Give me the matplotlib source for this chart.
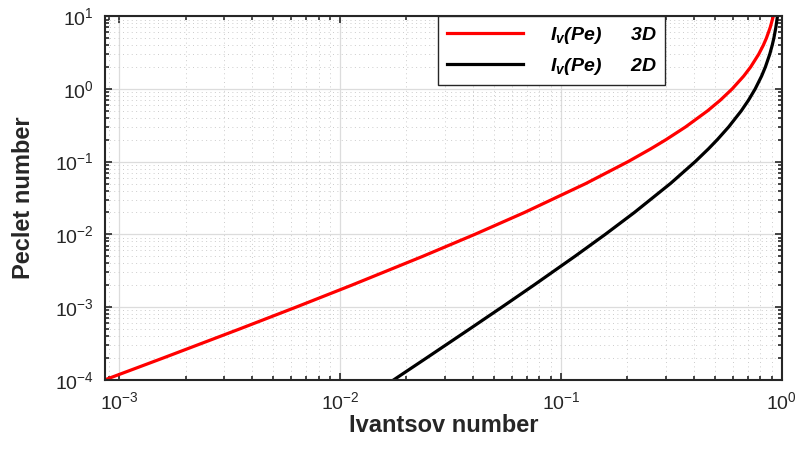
import matplotlib
matplotlib.use("Agg")
import matplotlib.pyplot as plt

plt.rcParams["font.family"] = ["Liberation Sans", "DejaVu Sans"]
plt.rcParams["mathtext.fontset"] = "custom"
plt.rcParams["mathtext.rm"] = "Liberation Sans"
plt.rcParams["mathtext.it"] = "Liberation Sans:italic"
plt.rcParams["mathtext.bf"] = "Liberation Sans:bold"
plt.rcParams["mathtext.sf"] = "Liberation Sans:italic:bold"

# Peclet numbers and the Ivantsov numbers read for them
pe = [1e-4, 2e-4, 5e-4, 1e-3, 2e-3, 5e-3, 1e-2, 2e-2, 5e-2, 0.1, 0.15, 0.2,
      0.3, 0.5, 0.7, 1.0, 1.5, 2.0, 3.0, 4.0, 5.0, 7.0, 10.0]
iv_3d = [8.633e-4, 1.588e-3, 3.514e-3, 6.338e-3, 1.130e-2, 2.375e-2, 4.079e-2,
         6.845e-2, 0.1297, 0.2015, 0.2552, 0.2987, 0.3668, 0.4615, 0.5269,
         0.5963, 0.6724, 0.7227, 0.7862, 0.8254, 0.8521, 0.8865, 0.9156]
iv_2d = [0.01753, 0.02467, 0.03865, 0.05411, 0.07542, 0.1159, 0.1589, 0.2152,
         0.3133, 0.4056, 0.4657, 0.5103, 0.5747, 0.6557, 0.7069, 0.7579,
         0.8101, 0.8427, 0.8821, 0.9054, 0.9208, 0.9401, 0.9561]

labels = [r"$\mathsf{I_v(Pe)\quad\;\;\;3D}$", r"$\mathsf{I_v(Pe)\quad\;\;\;2D}$"]
dark = "#262626"

fig = plt.figure(figsize=(8.01, 4.5), dpi=100)
ax = fig.add_axes([0.131, 0.156, 0.845, 0.808])

ax.loglog(iv_3d, pe, color="#ff0000", lw=2.3, label=labels[0])
ax.loglog(iv_2d, pe, color="black", lw=2.3, label=labels[1])

ax.set_xlim(iv_3d[0], 1)
ax.set_ylim(1e-4, 10)

ax.grid(True, which="major", color="#dcdcdc", lw=0.9, ls="-")
ax.grid(True, which="minor", color="#cccccc", lw=0.7, ls=(0, (1, 3.5)))
ax.set_axisbelow(True)

ax.tick_params(which="both", direction="in", top=True, right=True,
               colors=dark, labelsize=14, width=1.2)
ax.tick_params(which="major", length=5, pad=8)
ax.tick_params(which="minor", length=3)
for sp in ax.spines.values():
    sp.set_color(dark)
    sp.set_linewidth(1.5)

ax.set_xlabel("Ivantsov number", fontsize=17, fontweight="bold", color=dark,
              labelpad=1)
ax.set_ylabel("Peclet number", fontsize=17, fontweight="bold", color=dark,
              labelpad=14)

leg = ax.legend(loc="upper left", bbox_to_anchor=(0.492, 1.0), borderaxespad=0,
                fontsize=14, fancybox=False, framealpha=1, edgecolor=dark,
                handlelength=3.9, handletextpad=1.4, labelspacing=0.5,
                borderpad=0.45)
leg.get_frame().set_linewidth(1.0)

fig.savefig("out.png", dpi=100)
